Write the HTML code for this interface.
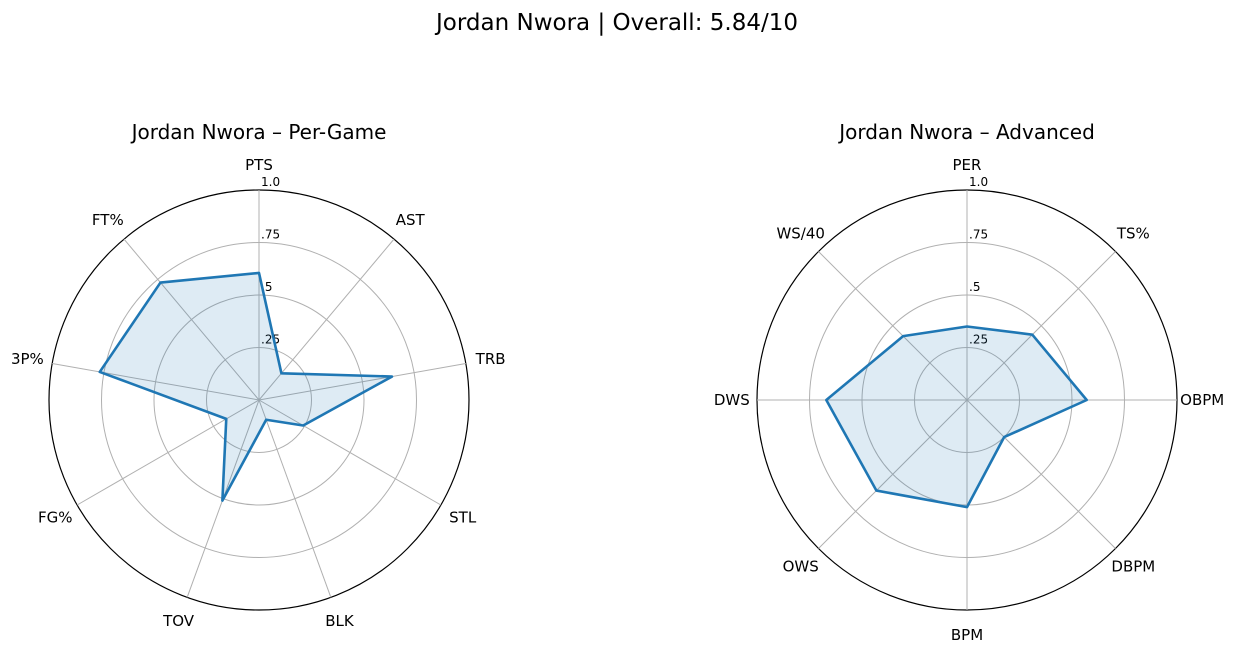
<!DOCTYPE html>
<html><head><meta charset="utf-8"><style>
body{margin:0;background:#fff;}
svg text{font-family:"DejaVu Sans","Liberation Sans",sans-serif;}
</style></head><body>
<svg id="s" width="1234" height="653" viewBox="0 0 1234 653">
<text x="617" y="30" font-size="23" text-anchor="middle" fill="#000">Jordan Nwora | Overall: 5.84/10</text>
</svg>
<script>
const leftLabels = ["PTS","AST","TRB","STL","BLK","TOV","FG%","3P%","FT%"];
const leftValues = [0.605,0.166,0.643,0.243,0.10,0.51,0.18,0.77,0.73];
const rightLabels = ["PER","TS%","OBPM","DBPM","BPM","OWS","DWS","WS/40"];
const rightValues = [0.35,0.44,0.57,0.25,0.51,0.61,0.67,0.43];
const tickValues = [0.25,0.5,0.75,1.0];
const tickLabels = [".25",".5",".75","1.0"];

const NS="http://www.w3.org/2000/svg";
const svg=document.getElementById('s');
function mk(tag,attrs,parent){const e=document.createElementNS(NS,tag);for(const k in attrs)e.setAttribute(k,attrs[k]);(parent||svg).appendChild(e);return e;}

function radar(cx,cy,R,labels,values,title,name){
  const g=mk('g',{});
  
  
  const n=labels.length;
  const ang=i=>i*2*Math.PI/n;
  const pt=(i,r)=>[cx+R*r*Math.sin(ang(i)),cy-R*r*Math.cos(ang(i))];
  const t=mk('text',{x:cx,y:139,'font-size':20,'text-anchor':'middle',fill:'#000'},g);
  t.textContent=title;
  
  
  tickValues.forEach((v,k)=>{
    const c=mk('circle',{cx:cx,cy:cy,r:R*v,fill:'none',stroke:v===1?'#000':'#b0b0b0','stroke-width':v===1?1.2:1},g);
    
    
  });
  labels.forEach((l,i)=>{
    const [x,y]=pt(i,1);
    const ln=mk('line',{x1:cx,y1:cy,x2:x,y2:y,stroke:'#b0b0b0','stroke-width':1},g);
    
    
    const [lx,ly]=pt(i,1.12);
    const tx=mk('text',{x:lx,y:ly+5,'font-size':15,'text-anchor':'middle',fill:'#000'},g);
    tx.textContent=l;
    
    
  });
  tickValues.forEach((v,k)=>{
    const tx=mk('text',{x:cx+2,y:cy-R*v-4,'font-size':12,fill:'#000'},g);
    tx.textContent=tickLabels[k];
    
    
  });
  const pts=values.map((v,i)=>pt(i,v).join(',')).join(' ');
  const p=mk('polygon',{points:pts,fill:'rgba(31,119,180,0.15)',stroke:'#1f77b4','stroke-width':2.6,'stroke-linejoin':'round'},g);
  
  
}
radar(259,400,210,leftLabels,leftValues,"Jordan Nwora \u2013 Per-Game","per-game-radar");
radar(967,400,210,rightLabels,rightValues,"Jordan Nwora \u2013 Advanced","advanced-radar");
</script>
</body></html>
